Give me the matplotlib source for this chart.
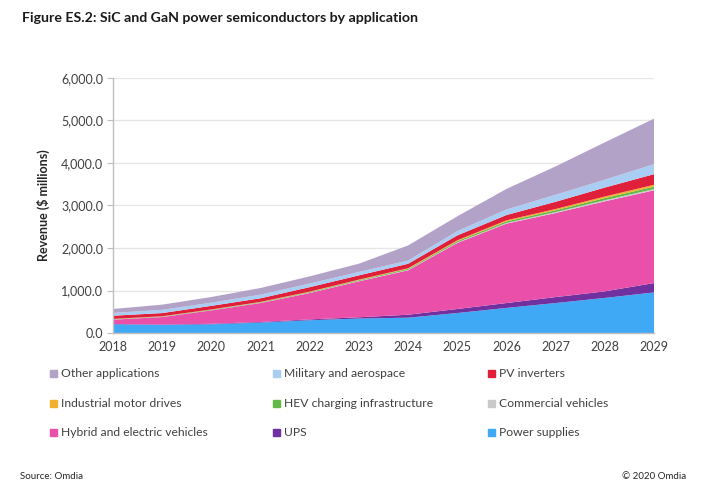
import matplotlib
matplotlib.use("Agg")
import matplotlib.pyplot as plt
from matplotlib.patches import Rectangle
from matplotlib.ticker import FuncFormatter, MultipleLocator

plt.rcParams['font.family'] = ['Lato', 'DejaVu Sans']

years = [2018, 2019, 2020, 2021, 2022, 2023, 2024, 2025, 2026, 2027, 2028, 2029]

power_supplies = [205, 190, 205, 245, 300, 340, 360, 470, 590, 705, 825, 955]
ups = [8, 10, 12, 15, 20, 30, 70, 95, 115, 140, 155, 220]
hybrid_ev = [101, 176, 316, 446, 621, 846, 1045, 1553, 1868, 1979, 2118, 2182]
commercial_vehicles = [5, 5, 5, 6, 8, 10, 12, 15, 18, 22, 26, 30]
hev_charging = [8, 8, 10, 12, 15, 18, 22, 28, 35, 42, 50, 55]
industrial_motor = [5, 5, 6, 8, 10, 12, 15, 20, 25, 30, 38, 45]
pv_inverters = [75, 75, 85, 85, 105, 100, 105, 115, 125, 170, 210, 250]
military = [65, 75, 75, 85, 85, 80, 75, 100, 130, 165, 185, 235]
other = [93, 123, 133, 157, 169, 195, 356, 349, 484, 667, 879, 1071]

series = [
    ("Power supplies", power_supplies, "#3fa9f5"),
    ("UPS", ups, "#7030a0"),
    ("Hybrid and electric vehicles", hybrid_ev, "#ea4fa9"),
    ("Commercial vehicles", commercial_vehicles, "#c9c9c9"),
    ("HEV charging infrastructure", hev_charging, "#62b849"),
    ("Industrial motor drives", industrial_motor, "#f2b02e"),
    ("PV inverters", pv_inverters, "#e0203a"),
    ("Military and aerospace", military, "#a9cdf3"),
    ("Other applications", other, "#b3a2c7"),
]

fig = plt.figure(figsize=(7.07, 4.90), dpi=100)
ax = fig.add_axes([113/707, 1-333/490, (654-113)/707, (333-78)/490])

ax.stackplot(years, *[s[1] for s in series], colors=[s[2] for s in series],
             linewidth=0)

ax.set_xlim(2018, 2029)
ax.set_ylim(0, 6000)
ax.yaxis.set_major_locator(MultipleLocator(1000))
ax.yaxis.set_major_formatter(FuncFormatter(lambda v, p: f"{v:,.1f}"))
ax.set_xticks(years)
ax.grid(axis='y', color='#e6e6e6', linewidth=0.9)
ax.set_axisbelow(True)
for sp in ['top', 'right']:
    ax.spines[sp].set_visible(False)
for sp in ['left', 'bottom']:
    ax.spines[sp].set_color('#bfbfbf')
    ax.spines[sp].set_linewidth(1.0)
ax.tick_params(axis='y', length=4, color='#bfbfbf', labelsize=9, labelcolor='#404040', pad=3)
ax.tick_params(axis='x', length=0, labelsize=9, labelcolor='#404040', pad=6)
ax.set_ylabel("Revenue ($ millions)", fontsize=9, fontweight='bold', color='#262626', labelpad=8)

fig.text(22/707, 1-18/490, "Figure ES.2: SiC and GaN power semiconductors by application",
         fontsize=10.2, fontweight='bold', color='#1a1a1a', va='center', ha='left')

# legend, row-wise order
legend_rows = [
    ["Other applications", "Military and aerospace", "PV inverters"],
    ["Industrial motor drives", "HEV charging infrastructure", "Commercial vehicles"],
    ["Hybrid and electric vehicles", "UPS", "Power supplies"],
]
colmap = {s[0]: s[2] for s in series}
col_x = [50, 273, 488]
row_y = [373, 403, 432]
for r, row in enumerate(legend_rows):
    for c, name in enumerate(row):
        x = col_x[c]
        y = row_y[r]
        fig.patches.append(Rectangle((x/707, 1-(y+3.5)/490), 7/707, 7/490,
                                     transform=fig.transFigure, color=colmap[name]))
        fig.text((x+11)/707, 1-y/490, name, fontsize=8.7, color='#404040', va='center', ha='left')

fig.text(20/707, 1-476/490, "Source: Omdia", fontsize=7, color='#262626', va='center', ha='left')
fig.text(686/707, 1-476/490, "\u00a9 2020 Omdia", fontsize=7, color='#262626', va='center', ha='right')

fig.savefig("out.png", dpi=100)
